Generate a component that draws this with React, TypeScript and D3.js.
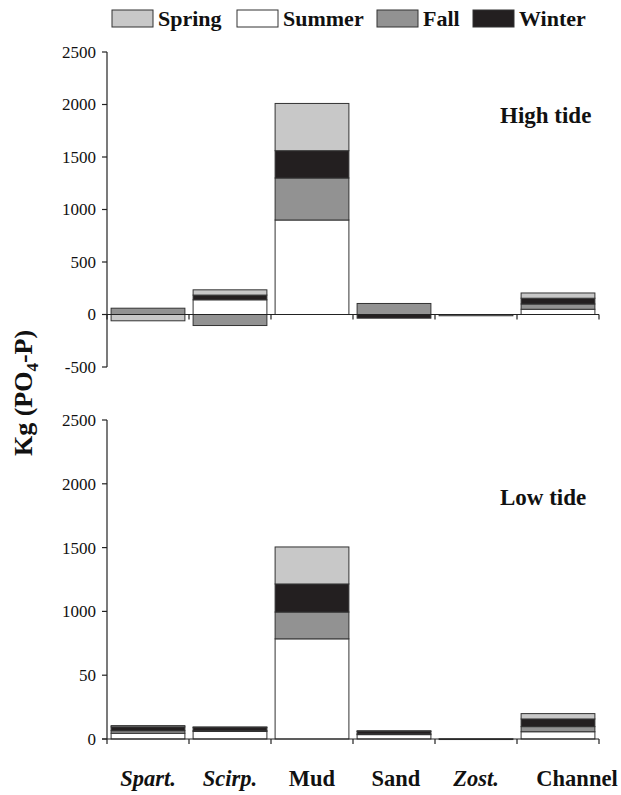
import React from 'react';
import * as d3 from 'd3';

const categories = ['Spart.', 'Scirp.', 'Mud', 'Sand', 'Zost.', 'Channel'];
const italicCats = ['Spart.', 'Scirp.', 'Zost.'];
const stackOrder = ['Summer', 'Fall', 'Winter', 'Spring'];
const legendOrder = ['Spring', 'Summer', 'Fall', 'Winter'];

// High tide (kg PO4-P)
const summerHigh = [0, 140, 900, 0, 0, 50];
const fallHigh = [60, -105, 400, 105, -12, 50];
const winterHigh = [0, 45, 260, -35, 0, 55];
const springHigh = [-60, 50, 450, 0, 0, 50];

// Low tide
const summerLow = [45, 60, 785, 35, 2, 57];
const fallLow = [20, 5, 210, 5, 0, 40];
const winterLow = [30, 25, 220, 20, 0, 60];
const springLow = [10, 5, 290, 5, 0, 42];

const topTicks = [-500, 0, 500, 1000, 1500, 2000, 2500];
const topTickLabels = ['-500', '0', '500', '1000', '1500', '2000', '2500'];
const bottomTicks = [0, 500, 1000, 1500, 2000, 2500];
const bottomTickLabels = ['0', '50', '1000', '1500', '2000', '2500'];

const COLORS: Record<string, string> = {
  Spring: '#c8c8c8',
  Summer: '#ffffff',
  Fall: '#929292',
  Winter: '#231f20',
};

const FONT = '"Liberation Serif", "Times New Roman", serif';

const buildRows = (su: number[], fa: number[], wi: number[], sp: number[]) =>
  categories.map((c, i) => ({ cat: c, Summer: su[i], Fall: fa[i], Winter: wi[i], Spring: sp[i] }));

const x = d3.scaleBand<string>().domain(categories).range([107, 599]).paddingInner(0.1).paddingOuter(0.05);
const step = x.step();
const boundaries = categories.map(c => (x(c) as number) - step * 0.05).concat([599]);

const stack = d3.stack<any>().keys(stackOrder).offset(d3.stackOffsetDiverging);

function Panel({ rows, y, ticks, labels, domainMin, label, labelY }: any) {
  const series = stack(rows);
  const y0 = y(0);
  return (
    <g>
      {series.map((s: any) =>
        s.map((d: any, i: number) => {
          const top = Math.min(y(d[0]), y(d[1]));
          const h = Math.abs(y(d[0]) - y(d[1]));
          if (h < 0.01) return null;
          return (
            <rect
              key={s.key + i}
              x={x(categories[i])}
              y={top}
              width={x.bandwidth()}
              height={Math.max(h, 0.8)}
              fill={COLORS[s.key]}
              stroke="#333"
              strokeWidth={1}
            />
          );
        })
      )}
      {/* y axis */}
      <line x1={107} x2={107} y1={y(ticks[ticks.length - 1])} y2={y(domainMin)} stroke="#222" strokeWidth={1.2} />
      {ticks.map((t: number, i: number) => (
        <g key={t}>
          <line x1={102} x2={107} y1={y(t)} y2={y(t)} stroke="#222" strokeWidth={1.2} />
          <text x={96} y={y(t)} dy="0.35em" textAnchor="end" fontFamily={FONT} fontSize={17} fill="#111">
            {labels[i]}
          </text>
        </g>
      ))}
      {/* x axis at zero */}
      <line x1={102} x2={599} y1={y0} y2={y0} stroke="#222" strokeWidth={1.2} />
      {boundaries.map((b, i) => (
        <line key={i} x1={b} x2={b} y1={y0} y2={y0 + 5} stroke="#222" strokeWidth={1.2} />
      ))}
      <text x={500} y={labelY} fontFamily={FONT} fontSize={23} fontWeight="bold" fill="#111">
        {label}
      </text>
    </g>
  );
}

// the last category label sits a little right of its band in the original
const labelShift = [0, 0, 0, 2, 0, 19];

export default function App() {
  const yTop = d3.scaleLinear().domain([-500, 2500]).range([367, 52]);
  const yBottom = d3.scaleLinear().domain([0, 2500]).range([739, 420]);
  const legendX = [112, 237, 377, 473];

  return (
    <svg width={621} height={795} style={{ position: 'absolute', left: 0, top: 0, background: '#fff' }}>
      {legendOrder.map((k, i) => (
        <g key={k}>
          <rect x={legendX[i]} y={10} width={41} height={17} fill={COLORS[k]} stroke="#333" strokeWidth={1} />
          <text x={legendX[i] + 46} y={26} fontFamily={FONT} fontSize={22} fontWeight="bold" fill="#111">
            {k}
          </text>
        </g>
      ))}

      <Panel
        rows={buildRows(summerHigh, fallHigh, winterHigh, springHigh)}
        y={yTop}
        ticks={topTicks}
        labels={topTickLabels}
        domainMin={-500}
        label="High tide"
        labelY={123}
      />
      <Panel
        rows={buildRows(summerLow, fallLow, winterLow, springLow)}
        y={yBottom}
        ticks={bottomTicks}
        labels={bottomTickLabels}
        domainMin={0}
        label="Low tide"
        labelY={505}
      />

      {categories.map((c, i) => (
        <text
          key={c}
          x={(x(c) as number) + x.bandwidth() / 2 + labelShift[i]}
          y={786}
          textAnchor="middle"
          fontFamily={FONT}
          fontSize={22.5}
          fontWeight="bold"
          fontStyle={italicCats.includes(c) ? 'italic' : 'normal'}
          fill="#111"
        >
          {c}
        </text>
      ))}

      <text
        transform="translate(32,393) rotate(-90)"
        textAnchor="middle"
        fontFamily={FONT}
        fontSize={26}
        fontWeight="bold"
        fill="#111"
      >
        Kg (PO<tspan fontSize={17} dy={6}>4</tspan>
        <tspan dy={-6}>-P)</tspan>
      </text>
    </svg>
  );
}
